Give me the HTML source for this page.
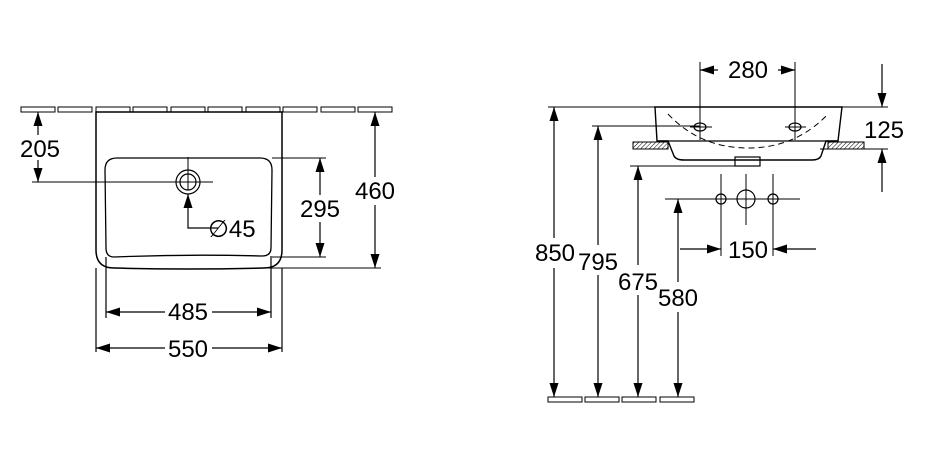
<!DOCTYPE html>
<html><head><style>
html,body{margin:0;padding:0;background:#fff;}
svg{display:block}
text{font-family:"Liberation Sans","DejaVu Sans",sans-serif;font-size:24px;fill:#000;}
</style></head><body>
<svg width="933" height="458" viewBox="0 0 933 458" xmlns="http://www.w3.org/2000/svg">
<defs>
<marker id="a" viewBox="0 0 14 9" refX="14" refY="4.5" markerWidth="14" markerHeight="9" orient="auto-start-reverse" markerUnits="userSpaceOnUse"><path d="M0,0 L14,4.5 L0,9 z" fill="#000"/></marker>
<pattern id="h" width="3" height="3" patternUnits="userSpaceOnUse" patternTransform="rotate(45)"><line x1="0" y1="0" x2="0" y2="3" stroke="#000" stroke-width="1"/></pattern>
</defs>
<g fill="none" stroke="#000" stroke-width="1.2">
<g stroke-width="1">
<rect x="21" y="107" width="34" height="5"/><rect x="58" y="107" width="34" height="5"/><rect x="96" y="107" width="34" height="5"/><rect x="133" y="107" width="34" height="5"/><rect x="171" y="107" width="34" height="5"/><rect x="208" y="107" width="34" height="5"/><rect x="246" y="107" width="34" height="5"/><rect x="283" y="107" width="34" height="5"/><rect x="321" y="107" width="34" height="5"/><rect x="358" y="107" width="34" height="5"/>
</g>
<path d="M96,112 L96,250 Q96,268 114,268 Q188,270 264,268 Q282,268 282,250 L282,112 Z" stroke-width="1.5"/>
<path d="M105,170 Q105,158 117,158 L260,158 Q272,158 272,170 L271,248 Q271,256 262,256 Q188,254 114,257 Q106,257 106,248 Z" stroke-width="1.3"/>
<line x1="96" y1="268" x2="96" y2="352"/><line x1="282" y1="268" x2="282" y2="352"/>
<line x1="106" y1="257" x2="106" y2="318"/><line x1="271" y1="256" x2="271" y2="318"/>
<circle cx="188" cy="182" r="12"/><circle cx="188" cy="182" r="8"/>
<line x1="32" y1="182" x2="213" y2="182" stroke-width="1"/><line x1="188" y1="157" x2="188" y2="190" stroke-width="1"/>
<line x1="38" y1="112" x2="38" y2="135" marker-start="url(#a)"/><line x1="38" y1="160" x2="38" y2="182" marker-end="url(#a)"/>
<polyline points="218,228 188,228 188,194" marker-end="url(#a)"/>
<line x1="272" y1="158" x2="326" y2="158" stroke-width="1"/><line x1="272" y1="257" x2="326" y2="257" stroke-width="1"/>
<line x1="320" y1="158" x2="320" y2="195" marker-start="url(#a)"/><line x1="320" y1="222" x2="320" y2="257" marker-end="url(#a)"/>
<line x1="264" y1="268" x2="381" y2="268" stroke-width="1"/>
<line x1="375" y1="112" x2="375" y2="177" marker-start="url(#a)"/><line x1="375" y1="205" x2="375" y2="268" marker-end="url(#a)"/>
<line x1="106" y1="312" x2="165" y2="312" marker-start="url(#a)"/><line x1="212" y1="312" x2="271" y2="312" marker-end="url(#a)"/>
<line x1="96" y1="348" x2="165" y2="348" marker-start="url(#a)"/><line x1="212" y1="348" x2="282" y2="348" marker-end="url(#a)"/>

<line x1="548" y1="107" x2="888" y2="107" stroke-width="1"/>
<path d="M655,107 L657,141 L668,141 L674,156 Q676,160 684,160 L812,160 Q819,160 821,156 L826,141 L838,141 L842,107 Z" stroke-width="1.4"/>
<line x1="657" y1="141" x2="838" y2="141"/>
<path d="M668,114 Q700,148 748,148 Q796,148 828,114" stroke-dasharray="6,4" stroke-width="1"/>
<rect x="735" y="157" width="25" height="9"/>
<rect x="633" y="142" width="35" height="7" fill="url(#h)" stroke-width="1"/>
<rect x="828" y="142" width="36" height="7" fill="url(#h)" stroke-width="1"/>
<ellipse cx="700" cy="127" rx="6" ry="4"/><ellipse cx="795" cy="127" rx="6" ry="4"/>
<g stroke-width="1">
<line x1="690" y1="127" x2="712" y2="127"/><line x1="785" y1="127" x2="806" y2="127"/>
<line x1="700" y1="62" x2="700" y2="140"/><line x1="795" y1="62" x2="795" y2="140"/>
<line x1="592" y1="126" x2="700" y2="126"/>
<line x1="630" y1="166" x2="736" y2="166"/>
<line x1="665" y1="199" x2="800" y2="199"/>
<line x1="820" y1="149" x2="888" y2="149"/>
</g>
<line x1="718" y1="70" x2="700" y2="70" marker-end="url(#a)"/><line x1="778" y1="70" x2="795" y2="70" marker-end="url(#a)"/>
<line x1="882" y1="64" x2="882" y2="107" marker-end="url(#a)"/><line x1="882" y1="192" x2="882" y2="149" marker-end="url(#a)"/>
<circle cx="721" cy="199" r="5"/><circle cx="746" cy="199" r="9"/><circle cx="773" cy="199" r="5"/>
<g stroke-width="1">
<line x1="721" y1="174" x2="721" y2="256"/><line x1="773" y1="174" x2="773" y2="256"/><line x1="746" y1="174" x2="746" y2="225"/>
<line x1="738" y1="199" x2="754" y2="199"/>
</g>
<line x1="680" y1="249" x2="721" y2="249" marker-end="url(#a)"/><line x1="816" y1="249" x2="773" y2="249" marker-end="url(#a)"/>
<line x1="554" y1="107" x2="554" y2="238" marker-start="url(#a)"/><line x1="554" y1="268" x2="554" y2="397" marker-end="url(#a)"/>
<line x1="598" y1="126" x2="598" y2="245" marker-start="url(#a)"/><line x1="598" y1="275" x2="598" y2="397" marker-end="url(#a)"/>
<line x1="638" y1="166" x2="638" y2="265" marker-start="url(#a)"/><line x1="638" y1="295" x2="638" y2="397" marker-end="url(#a)"/>
<line x1="678" y1="199" x2="678" y2="282" marker-start="url(#a)"/><line x1="678" y1="312" x2="678" y2="397" marker-end="url(#a)"/>
<g stroke-width="1">
<rect x="548" y="397" width="34" height="5"/><rect x="585" y="397" width="34" height="5"/><rect x="622" y="397" width="34" height="5"/><rect x="660" y="397" width="34" height="5"/>
</g>
</g>
<text x="40" y="157" text-anchor="middle">205</text>
<text x="208" y="237">∅45</text>
<text x="320" y="217" text-anchor="middle">295</text>
<text x="375" y="199" text-anchor="middle">460</text>
<text x="188" y="320" text-anchor="middle">485</text>
<text x="188" y="357" text-anchor="middle">550</text>
<text x="748" y="78" text-anchor="middle">280</text>
<text x="884" y="138" text-anchor="middle">125</text>
<text x="748" y="258" text-anchor="middle">150</text>
<text x="555" y="261" text-anchor="middle">850</text>
<text x="598" y="270" text-anchor="middle">795</text>
<text x="638" y="290" text-anchor="middle">675</text>
<text x="678" y="306" text-anchor="middle">580</text>
</svg>
</body></html>
